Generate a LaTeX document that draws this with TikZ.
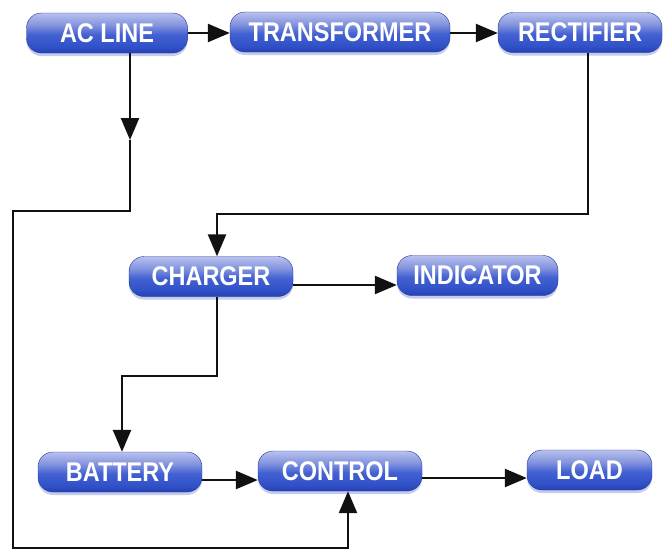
\documentclass[tikz,border=0pt]{standalone}
\usepackage{fontspec}
\newfontfamily\labelfont[FakeStretch=0.87]{Liberation Sans}
\usetikzlibrary{arrows.meta,shadows}

\definecolor{pilltop}{HTML}{B8C1EE}
\definecolor{pillhi}{HTML}{8494DE}
\definecolor{pillmid}{HTML}{4361D2}
\definecolor{pilllow}{HTML}{3151C8}
\definecolor{pillbot}{HTML}{2640B4}
\definecolor{pillshadow}{HTML}{8A98D8}
\definecolor{wirecol}{HTML}{111111}

% glossy blue fill: light band on top, saturated blue below
\pgfdeclareverticalshading{pillshade}{100bp}{%
  color(0bp)=(pillbot); color(25bp)=(pillbot); color(33bp)=(pilllow);
  color(48bp)=(pillmid); color(60bp)=(pillhi); color(75bp)=(pilltop);
  color(100bp)=(pilltop)}

\tikzset{
  pill/.style={rounded corners=15pt, minimum height=40pt, inner sep=0pt,
    shade, shading=pillshade, draw=pillbot!85!black, line width=0.4pt,
    text=white, font=\labelfont\bfseries\fontsize{27}{27}\selectfont,
    drop shadow={shadow xshift=0pt, shadow yshift=-3pt,
      fill=pillshadow, opacity=0.5}},
  wire/.style={line width=2.5pt, draw=wirecol, line join=miter},
  arrowed/.style={wire, -{Triangle[length=22pt,width=18pt]}},
}

\begin{document}
\begin{tikzpicture}[x=1pt,y=-1pt]
  \fill[white] (0,0) rectangle (669,552);
  \useasboundingbox (0,0) rectangle (669,552);

  % blocks
  \node[pill, minimum width=161pt] (AC) at (107,33)    {AC LINE};
  \node[pill, minimum width=220pt] (TR) at (340,32)    {TRANSFORMER};
  \node[pill, minimum width=164pt] (RE) at (580,32.5)  {RECTIFIER};
  \node[pill, minimum width=164pt] (CH) at (211,276.5) {CHARGER};
  \node[pill, minimum width=161pt] (IN) at (477.5,275.5) {INDICATOR};
  \node[pill, minimum width=164pt] (BA) at (120,472)   {BATTERY};
  \node[pill, minimum width=164pt] (CO) at (340,471)   {CONTROL};
  \node[pill, minimum width=125pt] (LO) at (589.5,470) {LOAD};

  % routing points
  \coordinate (toprow) at (0,33);
  \coordinate (acmid)  at (130,140);
  \coordinate (acturn) at (130,211);
  \coordinate (lefttop) at (13,211);
  \coordinate (leftbot) at (13,548);
  \coordinate (ctlbot) at (348,548);
  \coordinate (rectdown) at (588,214);
  \coordinate (chgin)  at (217,214);
  \coordinate (chgdown) at (217,376);
  \coordinate (batin)  at (122,376);
  \coordinate (chgout) at (0,285);
  \coordinate (batout) at (0,480);
  \coordinate (ctlout) at (0,478);

  % top row
  \draw[arrowed] (AC.east |- toprow) -- (TR.west |- toprow);
  \draw[arrowed] (TR.east |- toprow) -- (RE.west |- toprow);

  % AC line bypass to control
  \draw[arrowed] (AC.south -| acmid) -- (acmid);
  \draw[arrowed] (acmid) -- (acturn) -- (lefttop) -- (leftbot) -- (ctlbot)
    -- (CO.south -| ctlbot);

  % rectifier feeds charger
  \draw[arrowed] (RE.south -| rectdown) -- (rectdown) -- (chgin) -- (CH.north -| chgin);

  % charger outputs
  \draw[arrowed] (CH.east |- chgout) -- (IN.west |- chgout);
  \draw[arrowed] (CH.south -| chgdown) -- (chgdown) -- (batin) -- (BA.north -| batin);

  % bottom row
  \draw[arrowed] (BA.east |- batout) -- (CO.west |- batout);
  \draw[arrowed] (CO.east |- ctlout) -- (LO.west |- ctlout);
\end{tikzpicture}
\end{document}
